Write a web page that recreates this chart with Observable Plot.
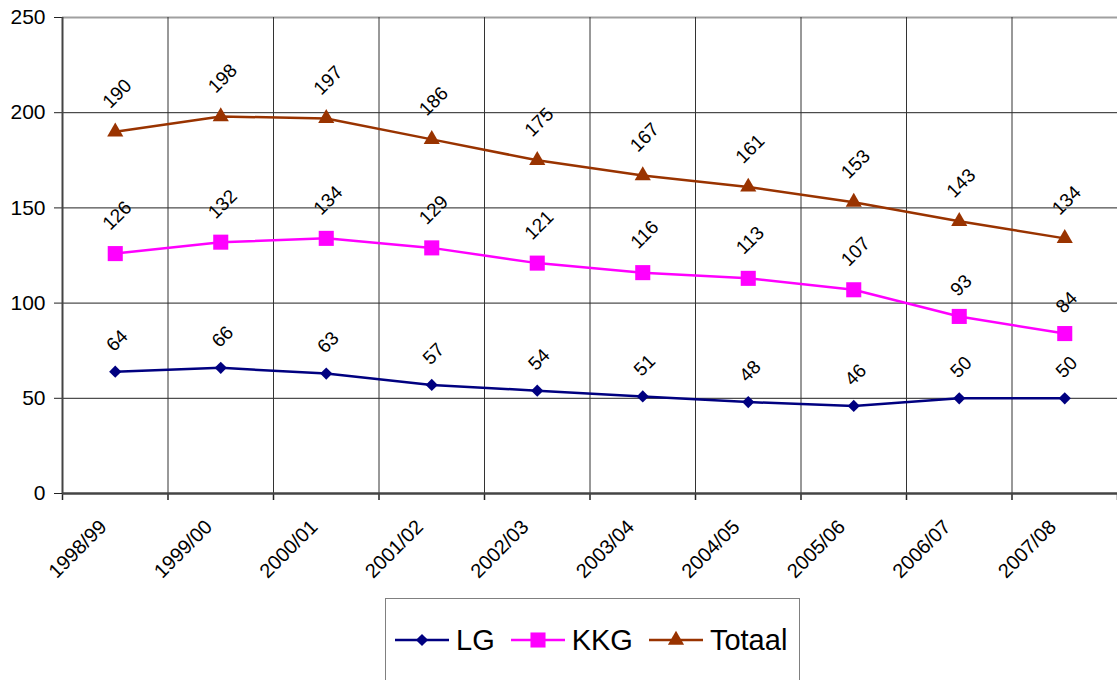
<!DOCTYPE html>
<html>
<head>
<meta charset="utf-8">
<script src="https://cdn.jsdelivr.net/npm/d3@7"></script>
<script src="https://cdn.jsdelivr.net/npm/@observablehq/plot@0.6"></script>
<style>
  body { margin: 0; background: #fff; font-family: "Liberation Sans", Arial, sans-serif; }
  #chart svg { display: block; }
  #chart svg text { font-family: "Liberation Sans", Arial, sans-serif; }
  #chart svg .lbl text, #chart svg text.lbl { font-size: 19px !important; }
  #chart svg .ytk text, #chart svg text.ytk { font-size: 21px !important; }
  #chart svg .xtk text, #chart svg text.xtk { font-size: 20px !important; }
  #legend { position: absolute; left: 385px; top: 598px; width: 415px; height: 90px; border: 1px solid #808080; box-sizing: border-box; display: flex; align-items: flex-start; padding-top: 24px; padding-left: 8px; font-size: 29px; line-height: 34px; color: #000; }
  .item { display: flex; align-items: center; margin-right: 15px; }
  .item svg { margin-right: 6px; }
</style>
</head>
<body>
<div id="chart"></div>
<div id="legend"></div>
<script>
const seasons = ["1998/99","1999/00","2000/01","2001/02","2002/03","2003/04","2004/05","2005/06","2006/07","2007/08"];
const lg = [64,66,63,57,54,51,48,46,50,50];
const kkg = [126,132,134,129,121,116,113,107,93,84];
const totaal = [190,198,197,186,175,167,161,153,143,134];
const seriesNames = ["LG","KKG","Totaal"];
const seriesColors = ["#000080","#FF00FF","#993300"];
const seriesSymbols = ["diamond2","square","triangle"];
const seriesRadius = [5.5, 8.5, 6];
const yTicks = [0,50,100,150,200,250];

const seriesValues = [lg, kkg, totaal];
const data = [];
seriesValues.forEach((vals, s) => vals.forEach((v, i) => data.push({series: seriesNames[s], i, value: v})));
const idx = d3.range(seasons.length);
const bounds = d3.range(seasons.length + 1).map(i => i - 0.5);

const font = "Liberation Sans, Arial, sans-serif";
const chart = Plot.plot({
  width: 1117,
  height: 596,
  marginLeft: 62,
  marginRight: 0,
  marginTop: 17,
  marginBottom: 103,
  style: {fontFamily: font, fontSize: "20px", color: "#000", background: "#fff"},
  x: {type: "linear", domain: [-0.5, seasons.length - 0.5]},
  y: {domain: [0, 250]},
  color: {domain: seriesNames, range: seriesColors},
  symbol: {domain: seriesNames, range: seriesSymbols},
  marks: [
    Plot.gridY([50,100,150,200], {stroke: "#222", strokeOpacity: 1, strokeWidth: 1}),
    Plot.ruleY([250], {stroke: "#a0a0a0", strokeWidth: 2}),
    Plot.gridX(bounds.slice(1, -1), {stroke: "#333", strokeOpacity: 1, strokeWidth: 1}),
    Plot.axisX(bounds, {tickSize: 7, tickFormat: () => "", stroke: "#222", strokeWidth: 1.5, label: null}),
    Plot.axisX(idx, {tickSize: 0, tickPadding: 30, tickRotate: -45, textAnchor: "end", tickFormat: i => seasons[i], fontSize: 20, label: null, dx: -12}),
    Plot.axisY(yTicks, {tickSize: 8, tickPadding: 9, fontSize: 21, label: null, stroke: "#222"}),
    Plot.ruleX([-0.5], {stroke: "#444", strokeWidth: 2}),
    Plot.ruleY([0], {stroke: "#444", strokeWidth: 2.5}),
    Plot.line(data, {x: "i", y: "value", z: "series", stroke: "series", strokeWidth: 2.5}),
    ...seriesNames.map((name, k) =>
      Plot.dot(data.filter(d => d.series === name), {x: "i", y: "value", symbol: "series", fill: "series", stroke: "none", r: seriesRadius[k]})),
    Plot.text(data.filter(d => d.value >= 100), {x: "i", y: "value", text: "value", rotate: -45, dy: -38, dx: 2, fontSize: 19, fill: "#000", textAnchor: "middle", lineAnchor: "middle"}),
    Plot.text(data.filter(d => d.value < 100), {x: "i", y: "value", text: "value", rotate: -45, dy: -31, dx: 2, fontSize: 19, fill: "#000", textAnchor: "middle", lineAnchor: "middle"})
  ]
});
const sel = d3.select(chart);
sel.selectAll('g[aria-label="text"]').classed("lbl", true).attr("font-size", 19);
sel.selectAll('g[aria-label="text"] text').classed("lbl", true).attr("font-size", 19);
sel.selectAll('g[aria-label^="x-axis tick label"]').classed("xtk", true).attr("font-size", 20);
sel.selectAll('g[aria-label^="y-axis tick label"]').classed("ytk", true).attr("font-size", 21);
document.getElementById("chart").appendChild(chart);

// legend
const legend = document.getElementById("legend");
seriesNames.forEach((name, k) => {
  const item = document.createElement("div");
  item.className = "item";
  const svg = d3.create("svg").attr("width", 56).attr("height", 20);
  svg.append("line").attr("x1", 1).attr("x2", 55).attr("y1", 10).attr("y2", 10).attr("stroke", seriesColors[k]).attr("stroke-width", 2.5);
  const sym = {diamond2: d3.symbolDiamond2, square: d3.symbolSquare, triangle: d3.symbolTriangle}[seriesSymbols[k]];
  const r = seriesRadius[k];
  svg.append("path").attr("transform", "translate(28,10)").attr("d", d3.symbol(sym, r * r * Math.PI)()).attr("fill", seriesColors[k]);
  item.appendChild(svg.node());
  const span = document.createElement("span");
  span.textContent = name;
  item.appendChild(span);
  legend.appendChild(item);
});
</script>
</body>
</html>
